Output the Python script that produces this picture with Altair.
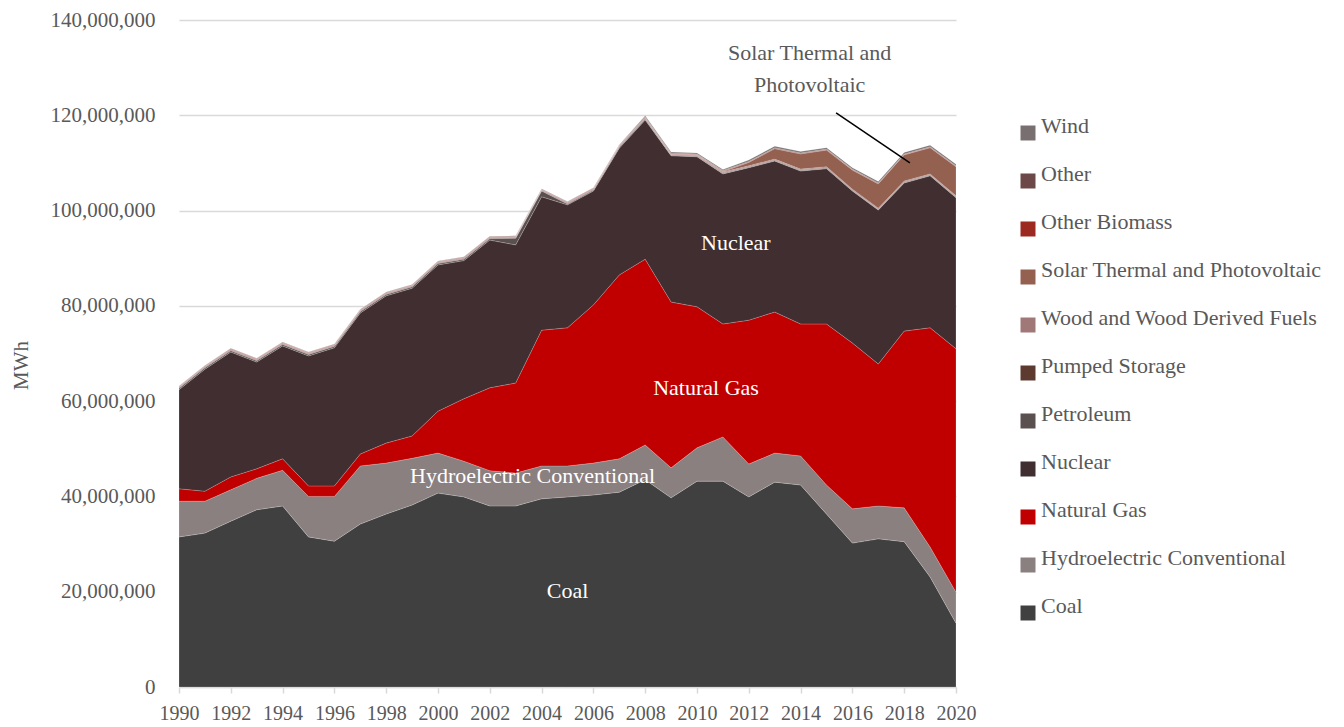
import altair as alt
import pandas as pd

years = list(range(1990, 2021))

# values in million MWh
coal = [31.5, 32.3, 34.8, 37.2, 38.0, 31.5, 30.6, 34.2, 36.3, 38.2, 40.7, 39.9, 38.0, 38.0, 39.5, 39.9,
        40.3, 40.9, 43.5, 39.7, 43.2, 43.2, 39.9, 43.0, 42.4, 36.3, 30.2, 31.1, 30.5, 23.1, 13.4]
hydro = [7.5, 6.7, 6.6, 6.6, 7.5, 8.5, 9.4, 12.2, 10.7, 9.8, 8.4, 7.5, 7.4, 6.9, 6.9, 6.5,
         6.7, 7.0, 7.3, 6.3, 7.0, 9.3, 6.9, 6.1, 6.1, 6.1, 7.2, 6.9, 7.1, 6.3, 6.5]
gas = [2.6, 2.1, 2.7, 2.0, 2.4, 2.2, 2.2, 2.5, 4.2, 4.7, 8.8, 13.1, 17.4, 18.9, 28.5, 29.0,
       33.2, 38.6, 39.0, 34.8, 29.6, 23.7, 30.2, 29.6, 27.7, 33.8, 34.8, 29.8, 37.1, 46.0, 51.1]
nuclear = [20.8, 25.6, 26.2, 22.4, 23.7, 27.3, 29.0, 29.6, 30.9, 31.0, 30.7, 29.0, 31.0, 29.0, 28.0, 25.8,
           23.9, 26.6, 29.2, 30.7, 31.5, 31.5, 32.0, 31.7, 32.1, 32.6, 31.9, 32.3, 31.1, 31.9, 31.7]
petroleum = [0.3, 0.3, 0.3, 0.3, 0.3, 0.3, 0.3, 0.3, 0.3, 0.3, 0.3, 0.3, 0.3, 1.4, 1.2, 0.2,
             0.2, 0.2, 0.2, 0.1, 0.1, 0.1, 0.1, 0.1, 0.1, 0.1, 0.1, 0.1, 0.1, 0.1, 0.1]
pumped = [0.1, 0.1, 0.1, 0.1, 0.1, 0.1, 0.1, 0.1, 0.1, 0.1, 0.1, 0.1, 0.1, 0.1, 0.1, 0.1,
          0.1, 0.1, 0.1, 0.1, 0.1, 0.1, 0.1, 0.1, 0.1, 0.1, 0.1, 0.1, 0.1, 0.1, 0.1]
wood = [0.2, 0.2, 0.2, 0.2, 0.2, 0.2, 0.2, 0.2, 0.2, 0.2, 0.2, 0.2, 0.2, 0.2, 0.2, 0.2,
        0.2, 0.2, 0.2, 0.2, 0.2, 0.2, 0.2, 0.2, 0.2, 0.2, 0.2, 0.2, 0.2, 0.2, 0.2]
solar = [0.0, 0.0, 0.0, 0.0, 0.0, 0.0, 0.0, 0.0, 0.0, 0.0, 0.0, 0.0, 0.0, 0.0, 0.0, 0.0,
         0.0, 0.0, 0.0, 0.0, 0.0, 0.1, 0.7, 2.2, 3.2, 3.5, 4.0, 5.1, 5.5, 5.5, 6.1]
biomass = [0.1, 0.1, 0.1, 0.1, 0.1, 0.1, 0.1, 0.1, 0.1, 0.1, 0.1, 0.1, 0.1, 0.1, 0.1, 0.1,
           0.1, 0.1, 0.1, 0.1, 0.1, 0.1, 0.1, 0.1, 0.1, 0.1, 0.1, 0.1, 0.1, 0.1, 0.1]
other = [0.1, 0.1, 0.1, 0.1, 0.1, 0.1, 0.1, 0.1, 0.1, 0.1, 0.1, 0.1, 0.1, 0.1, 0.1, 0.1,
         0.1, 0.1, 0.1, 0.1, 0.1, 0.1, 0.1, 0.1, 0.1, 0.1, 0.1, 0.1, 0.1, 0.1, 0.1]
wind = [0.0, 0.0, 0.0, 0.0, 0.0, 0.0, 0.0, 0.0, 0.0, 0.0, 0.0, 0.0, 0.0, 0.0, 0.0, 0.0,
        0.0, 0.0, 0.2, 0.2, 0.2, 0.2, 0.3, 0.3, 0.3, 0.3, 0.3, 0.3, 0.3, 0.3, 0.3]

series_names = ["Coal", "Hydroelectric Conventional", "Natural Gas", "Nuclear", "Petroleum",
                "Pumped Storage", "Wood and Wood Derived Fuels", "Solar Thermal and Photovoltaic",
                "Other Biomass", "Other", "Wind"]
series_values = [coal, hydro, gas, nuclear, petroleum, pumped, wood, solar, biomass, other, wind]
series_colors = ["#404040", "#8b8080", "#c00000", "#412e30", "#5a5050",
                 "#5c3a30", "#a07878", "#946050", "#9c2a20", "#6c4848", "#787070"]

y_ticks = [0, 20e6, 40e6, 60e6, 80e6, 100e6, 120e6, 140e6]

rows = []
for rank, (name, vals) in enumerate(zip(series_names, series_values)):
    for yr, v in zip(years, vals):
        rows.append({"year": yr, "source": name, "mwh": v * 1e6, "rank": rank})
df = pd.DataFrame(rows)

legend_order = series_names[::-1]
legend_colors = series_colors[::-1]

# annotations (data coordinates)
ann_text = ["Coal", "Hydroelectric Conventional", "Natural Gas", "Nuclear",
            "Solar Thermal and", "Photovoltaic"]
ann_x = [2005.0, 2003.65, 2010.35, 2011.5, 2014.35, 2014.35]
ann_y = [20.2e6, 44.3e6, 62.8e6, 93.2e6, 133.1e6, 126.4e6]
ann_color = ["#ffffff", "#ffffff", "#ffffff", "#ffffff", "#595959", "#595959"]
ann_df = pd.DataFrame({"text": ann_text, "x": ann_x, "y": ann_y, "c": ann_color})

line_df = pd.DataFrame({"x": [2015.37], "y": [120.5e6], "x2": [2018.22], "y2": [110.0e6]})

FONT = "Liberation Serif"
GREY = "#595959"

area = alt.Chart(df).mark_area(stroke="#ffffff", strokeWidth=0.6, strokeOpacity=0.3).encode(
    x=alt.X("year:Q",
            scale=alt.Scale(domain=[1990, 2020], nice=False, zero=False),
            axis=alt.Axis(values=years,
                          labelExpr="datum.value % 2 == 0 ? toString(datum.value) : ''",
                          title=None, grid=False, tickSize=6, tickColor="#d9d9d9",
                          domainColor="#d9d9d9", domainWidth=1.5, tickWidth=1.5,
                          labelFlush=False, labelOverlap=False, labelPadding=10,
                          labelFontSize=20, labelColor=GREY, labelFont=FONT)),
    y=alt.Y("mwh:Q", stack="zero",
            scale=alt.Scale(domain=[0, 140e6], nice=False),
            axis=alt.Axis(values=y_ticks, format=",.0f", title="MWh",
                          grid=True, gridColor="#d9d9d9", gridWidth=1.5,
                          domain=False, ticks=False, labelPadding=24,
                          labelFlush=False, labelFontSize=21, labelColor=GREY, labelFont=FONT,
                          titleFont=FONT, titleFontSize=21, titleColor=GREY,
                          titleFontWeight="normal", titleAngle=270,
                          titleX=-158, titleY=345, titleBaseline="middle", titleAlign="center")),
    color=alt.Color("source:N",
                    scale=alt.Scale(domain=legend_order, range=legend_colors),
                    legend=alt.Legend(title=None, orient="none", legendX=838, legendY=102,
                                      symbolType="square", symbolSize=225, symbolStrokeWidth=0,
                                      labelFont=FONT, labelFontSize=22, labelColor=GREY,
                                      labelOffset=2, rowPadding=22, labelLimit=400,
                                      labelBaseline="alphabetic", padding=0)),
    order=alt.Order("rank:Q", sort="ascending"),
)

texts = alt.Chart(ann_df).mark_text(font=FONT, fontSize=22, align="center", baseline="middle").encode(
    x=alt.X("x:Q"),
    y=alt.Y("y:Q"),
    text="text:N",
    color=alt.Color("c:N", scale=None),
)

rule = alt.Chart(line_df).mark_rule(color="#000000", strokeWidth=1.5).encode(
    x="x:Q", y="y:Q", x2="x2:Q", y2="y2:Q"
)

chart = alt.layer(area, texts, rule).properties(
    width=777, height=667,
    autosize=alt.AutoSizeParams(type="none"),
    padding={"left": 171, "top": 12, "right": 380, "bottom": 38},
    background="#ffffff",
).configure_view(stroke=None)

chart.save("out.html", embed_options={"renderer": "svg", "actions": False})
